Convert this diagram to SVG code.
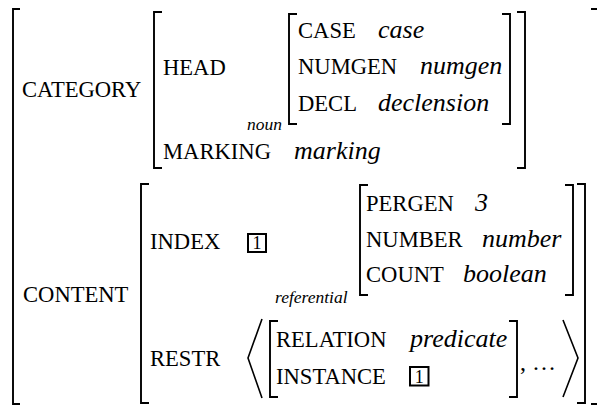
<svg xmlns="http://www.w3.org/2000/svg" width="597" height="408" viewBox="0 0 597 408">
<style>
text{fill:#000}
.k{font-size:22.6px}
.v{font-size:26px;font-style:italic}
.s{font-size:17.5px;font-style:italic}
.t{font-size:18px;text-anchor:middle}
.e{font-size:24px}
.br{fill:none;stroke:#000;stroke-width:1.9}
.ang{fill:none;stroke:#000;stroke-width:1.6;stroke-linejoin:miter}
.box{fill:none;stroke:#000;stroke-width:2}
</style>
<rect width="597" height="408" fill="#fff"/>
<g font-family="'Liberation Serif', 'Times New Roman', 'DejaVu Serif', serif">
<g id="avm-outer">
<path class="br" d="M20 9H13V404H20"/>
<path class="br" d="M591 9H600V404H591"/>
<text class="k" x="22" y="97">CATEGORY</text>
<text class="k" x="23" y="302">CONTENT</text>
</g>
<g id="avm-category">
<path class="br" d="M162 12H154V168H162"/>
<path class="br" d="M517 12H525V168H517"/>
<text class="k" x="163" y="75">HEAD</text>
<text class="k" x="163" y="159">MARKING</text>
<text class="v" x="294" y="159">marking</text>
</g>
<g id="avm-head">
<text class="s" x="247" y="130">noun</text>
<path class="br" d="M297 14H289V124H297"/>
<path class="br" d="M502 14H510V124H502"/>
<text class="k" x="298" y="38">CASE</text>
<text class="v" x="378" y="38">case</text>
<text class="k" x="298" y="74">NUMGEN</text>
<text class="v" x="420" y="74">numgen</text>
<text class="k" x="298" y="111">DECL</text>
<text class="v" x="378" y="111">declension</text>
</g>
<g id="avm-content">
<path class="br" d="M149 184H141V403H149"/>
<path class="br" d="M577 184H585V403H577"/>
<text class="k" x="150" y="249">INDEX</text>
<rect class="box" x="248" y="234" width="18" height="18"/>
<text class="t" x="257" y="249">1</text>
<text class="k" x="150" y="366">RESTR</text>
</g>
<g id="avm-index">
<text class="s" x="275" y="303">referential</text>
<path class="br" d="M368 185H360V295H368"/>
<path class="br" d="M565 185H573V295H565"/>
<text class="k" x="366" y="211">PERGEN</text>
<text class="v" x="475" y="211">3</text>
<text class="k" x="366" y="246.5">NUMBER</text>
<text class="v" x="482" y="246.5">number</text>
<text class="k" x="366" y="282">COUNT</text>
<text class="v" x="463" y="282">boolean</text>
</g>
<g id="avm-restr">
<polyline class="ang" points="262,319 248,358 262,398"/>
<polyline class="ang" points="563,320 578,358 563,397"/>
<path class="br" d="M278 321H270V397H278"/>
<path class="br" d="M509 321H517V397H509"/>
<text class="k" x="276" y="347">RELATION</text>
<text class="v" x="410" y="347">predicate</text>
<text class="k" x="276" y="384">INSTANCE</text>
<rect class="box" x="410" y="367" width="18.5" height="18.5"/>
<text class="t" x="419.3" y="382.5">1</text>
<text class="e" x="520" y="370">, …</text>
</g>
</g>
<g id="connectors"/>
</svg>
